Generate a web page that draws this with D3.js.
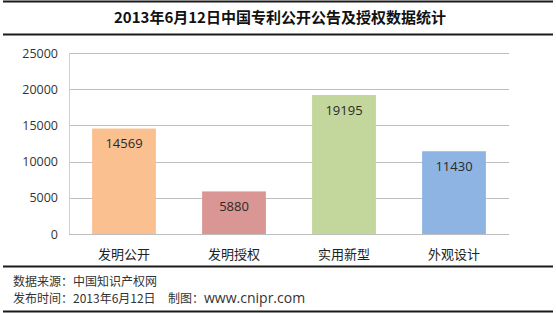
<!DOCTYPE html>
<html><head><meta charset="utf-8">
<script src="https://cdn.jsdelivr.net/npm/d3@7"></script>
<style>body{margin:0;background:#fff}svg{display:block}</style>
</head><body>
<script>
const titleText = "2013年6月12日中国专利公开公告及授权数据统计";
const categories = ["发明公开", "发明授权", "实用新型", "外观设计"];
const values = [14569, 5880, 19195, 11430];
const barColors = ["#FAC090", "#D99694", "#C3D69B", "#8EB4E3"];
const yTicks = [0, 5000, 10000, 15000, 20000, 25000];
const footerLines = ["数据来源：中国知识产权网", "发布时间：2013年6月12日"];
const footerCreditLabel = "制图：";
const footerCreditUrl = "www.cnipr.com";

const W = 556, H = 313;
const svg = d3.select("body").append("svg").attr("width", W).attr("height", H);
const cjk = "'Noto Sans CJK SC', 'Noto Sans', sans-serif";
const latin = "'Open Sans', 'Liberation Sans', Arial, sans-serif";

// frame lines
[[1.5, 2], [34.5, 2], [266.5, 2], [311.5, 2]].forEach(([yy, w]) => {
  svg.append("line").attr("x1", 3).attr("x2", 553).attr("y1", yy).attr("y2", yy)
    .attr("stroke", "#1a1a1a").attr("stroke-width", w);
});

svg.append("text").attr("x", 280).attr("y", 23).attr("text-anchor", "middle")
  .attr("font-family", cjk).attr("font-size", 15).attr("font-weight", "bold")
  .attr("fill", "#111").text(titleText);

const x = d3.scaleBand().domain(categories).range([69, 509]).paddingInner(0.42).paddingOuter(0.21);
const y = d3.scaleLinear().domain([0, 25000]).range([234, 53]);

// gridlines
svg.append("g").selectAll("line").data(yTicks).join("line")
  .attr("x1", 69).attr("x2", 509)
  .attr("y1", d => Math.round(y(d)) + 0.5).attr("y2", d => Math.round(y(d)) + 0.5)
  .attr("stroke", "#bdbdbd").attr("stroke-width", 1);
svg.append("line").attr("x1", 69.5).attr("x2", 69.5).attr("y1", y(25000)).attr("y2", y(0))
  .attr("stroke", "#d0d0d0");

// y tick labels
svg.append("g").selectAll("text").data(yTicks).join("text")
  .attr("x", 58).attr("y", d => y(d) + 4.5).attr("text-anchor", "end")
  .attr("font-family", latin).attr("font-size", 12.5)
  .attr("fill", "#333").text(d => d);

// bars
svg.append("g").selectAll("rect").data(values).join("rect")
  .attr("x", (d, i) => x(categories[i])).attr("width", x.bandwidth())
  .attr("y", d => y(d)).attr("height", d => y(0) - y(d))
  .attr("fill", (d, i) => barColors[i]);

// value labels
svg.append("g").selectAll("text").data(values).join("text")
  .attr("x", (d, i) => x(categories[i]) + x.bandwidth() / 2).attr("y", d => y(d) + 19.5)
  .attr("text-anchor", "middle").attr("font-family", latin)
  .attr("font-size", 13).attr("fill", "#2a2a2a").text(d => d);

// category labels
svg.append("g").selectAll("text").data(categories).join("text")
  .attr("x", d => x(d) + x.bandwidth() / 2).attr("y", 259)
  .attr("text-anchor", "middle").attr("font-family", cjk).attr("font-size", 13)
  .attr("fill", "#222").text(d => d);

// footer
footerLines.forEach((t, i) => {
  svg.append("text").attr("x", 13).attr("y", 286 + i * 17)
    .attr("font-family", cjk).attr("font-size", 12).attr("fill", "#333").text(t);
});
const credit = svg.append("text").attr("x", 168).attr("y", 303).attr("fill", "#333");
credit.append("tspan").attr("font-family", cjk).attr("font-size", 12).text(footerCreditLabel);
credit.append("tspan").attr("font-family", latin).attr("font-size", 14).text(footerCreditUrl);
</script>
</body></html>
